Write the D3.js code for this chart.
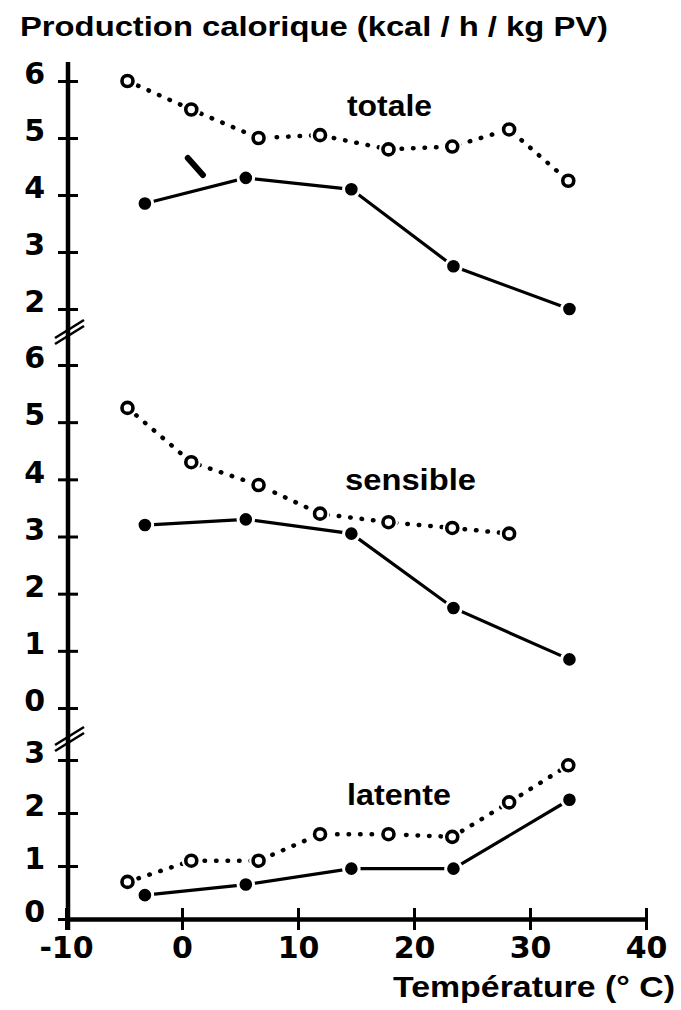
<!DOCTYPE html>
<html>
<head>
<meta charset="utf-8">
<script src="https://cdnjs.cloudflare.com/ajax/libs/d3/7.8.5/d3.min.js"></script>
<style>
  body { margin: 0; background: #fff; }
  svg { display: block; }
  .tick-label { font-family: "DejaVu Sans", sans-serif; font-weight: bold; font-size: 30px; fill: #000; }
  .label { font-family: "Liberation Sans", Arial, sans-serif; font-weight: bold; fill: #000; }
</style>
</head>
<body>
<svg></svg>
<script>
// temperatures (°C) of the two animal groups
const tempOpen = [-4.7, 0.8, 6.6, 11.9, 17.8, 23.3, 28.2, 33.3];
const tempFilled = [-3.2, 5.5, 14.6, 23.4, 33.4];

// kcal / h / kg PV
const totaleOpen = [6.0, 5.5, 5.0, 5.05, 4.8, 4.85, 5.15, 4.25];
const totaleFilled = [3.85, 4.3, 4.1, 2.75, 2.0];
const sensibleOpen = [5.25, 4.3, 3.9, 3.4, 3.25, 3.15, 3.05];
const sensibleFilled = [3.2, 3.3, 3.05, 1.75, 0.85];
const latenteOpen = [0.7, 1.1, 1.1, 1.6, 1.6, 1.55, 2.2, 2.9];
const latenteFilled = [0.45, 0.65, 0.95, 0.95, 2.25];

const xTicks = [-10, 0, 10, 20, 30, 40];
const totaleTicks = [2, 3, 4, 5, 6];
const sensibleTicks = [0, 1, 2, 3, 4, 5, 6];
const latenteTicks = [0, 1, 2, 3];

// short stroke drawn next to the totale curve (data units)
const strayMark = [[0.5, 4.65], [1.8, 4.35]];

const width = 681;
const height = 1010;
const axisX = 68;
const xAxisY = 919;

const svg = d3.select("svg");

let xScale;
let panels = [];

const drawCanvas = () => {
  svg.attr("width", width).attr("height", height);
};

const generateScales = () => {
  xScale = d3.scaleLinear().domain([-10, 40]).range([66, 646]);

  panels = [
    {
      name: "totale", open: totaleOpen, filled: totaleFilled, ticks: totaleTicks,
      y: d3.scaleLinear().domain([2, 6]).range([309, 81]),
      label: [347, 116, 85],
    },
    {
      name: "sensible", open: sensibleOpen, filled: sensibleFilled, ticks: sensibleTicks,
      y: d3.scaleLinear().domain([0, 6]).range([708, 365]),
      label: [345, 490, 131],
    },
    {
      name: "latente", open: latenteOpen, filled: latenteFilled, ticks: latenteTicks,
      y: d3.scaleLinear().domain([0, 3]).range([xAxisY, 760]),
      label: [347, 805, 104],
    },
  ];
};

const drawSeries = () => {
  panels.forEach((p) => {
    const openPts = p.open.map((v, i) => [tempOpen[i], v]);
    const filledPts = p.filled.map((v, i) => [tempFilled[i], v]);
    const line = d3.line().x((d) => xScale(d[0])).y((d) => p.y(d[1]));

    svg.append("path")
      .attr("d", line(openPts))
      .attr("fill", "none")
      .attr("stroke", "#000")
      .attr("stroke-width", 4.5)
      .attr("stroke-linecap", "round")
      .attr("stroke-dasharray", "0.5,11");

    svg.append("path")
      .attr("d", line(filledPts))
      .attr("fill", "none")
      .attr("stroke", "#000")
      .attr("stroke-width", 3.2);

    // white halo so the lines stop short of the markers
    svg.selectAll(null)
      .data(openPts)
      .enter()
      .append("circle")
      .attr("cx", (d) => xScale(d[0]))
      .attr("cy", (d) => p.y(d[1]))
      .attr("r", 9.5)
      .attr("fill", "#fff");

    svg.selectAll(null)
      .data(openPts)
      .enter()
      .append("circle")
      .attr("cx", (d) => xScale(d[0]))
      .attr("cy", (d) => p.y(d[1]))
      .attr("r", 5.5)
      .attr("fill", "#fff")
      .attr("stroke", "#000")
      .attr("stroke-width", 3.6);

    svg.selectAll(null)
      .data(filledPts)
      .enter()
      .append("circle")
      .attr("cx", (d) => xScale(d[0]))
      .attr("cy", (d) => p.y(d[1]))
      .attr("r", 7.8)
      .attr("fill", "#000")
      .attr("stroke", "#fff")
      .attr("stroke-width", 3);

    svg.append("text")
      .attr("class", "label")
      .attr("x", p.label[0])
      .attr("y", p.label[1])
      .attr("font-size", 30)
      .attr("textLength", p.label[2])
      .attr("lengthAdjust", "spacingAndGlyphs")
      .text(p.name);
  });

  const top = panels[0].y;
  svg.append("line")
    .attr("x1", xScale(strayMark[0][0]))
    .attr("y1", top(strayMark[0][1]))
    .attr("x2", xScale(strayMark[1][0]))
    .attr("y2", top(strayMark[1][1]))
    .attr("stroke", "#000")
    .attr("stroke-width", 6)
    .attr("stroke-linecap", "round");
};

const generateAxes = () => {
  // one continuous vertical axis across the three panels
  svg.append("line")
    .attr("x1", axisX).attr("x2", axisX)
    .attr("y1", panels[0].y(6) - 19)
    .attr("y2", xAxisY + 11)
    .attr("stroke", "#000")
    .attr("stroke-width", 4.5);

  panels.forEach((p) => {
    const g = svg.append("g")
      .attr("transform", `translate(${axisX}, 0)`)
      .call(d3.axisLeft(p.y).tickValues(p.ticks).tickFormat((d) => String(d)))
      .attr("font-size", null)
      .attr("font-family", null);
    g.select(".domain").remove();
    g.selectAll(".tick line")
      .attr("x1", -10).attr("x2", 10)
      .attr("stroke", "#000").attr("stroke-width", 3);
    g.selectAll(".tick text")
      .attr("class", "tick-label")
      .attr("x", -23)
      .attr("dy", "0.09em");
  });

  // axis breaks
  const breaks = [
    (panels[0].y(2) + panels[1].y(6)) / 2 - 4,
    (panels[1].y(0) + panels[2].y(3)) / 2 + 6,
  ];
  breaks.forEach((b) => {
    [-3, 3].forEach((o) => {
      svg.append("line")
        .attr("x1", axisX - 13).attr("y1", b + o + 8)
        .attr("x2", axisX + 16).attr("y2", b + o - 10)
        .attr("stroke", "#000").attr("stroke-width", 2.6);
    });
  });

  const gx = svg.append("g")
    .attr("transform", `translate(0, ${xAxisY})`)
    .call(d3.axisBottom(xScale).tickValues(xTicks).tickSizeOuter(0).tickFormat((d) => String(d)))
    .attr("font-size", null)
    .attr("font-family", null);
  gx.select(".domain").attr("stroke-width", 4.5);
  gx.selectAll(".tick line")
    .attr("y1", -11).attr("y2", 11)
    .attr("stroke", "#000").attr("stroke-width", 3);
  gx.selectAll(".tick text")
    .attr("class", "tick-label")
    .attr("y", 39)
    .attr("dy", 0);

  svg.append("text")
    .attr("class", "label")
    .attr("x", 393)
    .attr("y", 997)
    .attr("font-size", 30)
    .attr("textLength", 282)
    .attr("lengthAdjust", "spacingAndGlyphs")
    .text("Température (° C)");

  svg.append("text")
    .attr("class", "label")
    .attr("x", 20)
    .attr("y", 36)
    .attr("font-size", 27)
    .attr("textLength", 588)
    .attr("lengthAdjust", "spacingAndGlyphs")
    .text("Production calorique (kcal / h / kg PV)");
};

drawCanvas();
generateScales();
generateAxes();
drawSeries();
</script>
</body>
</html>
